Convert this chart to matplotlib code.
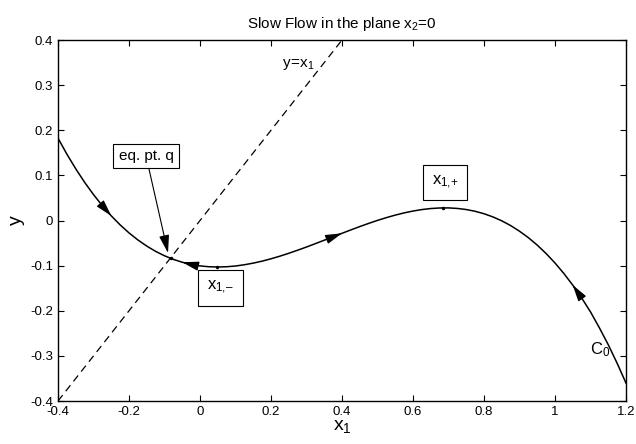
import numpy as np
import matplotlib
matplotlib.use('Agg')
import matplotlib.pyplot as plt
from matplotlib.ticker import FormatStrFormatter

plt.rcParams['font.family'] = ['Liberation Sans', 'DejaVu Sans']
plt.rcParams['mathtext.fontset'] = 'custom'
plt.rcParams['mathtext.rm'] = 'Liberation Sans'
plt.rcParams['mathtext.it'] = 'Liberation Sans'

# -Daten--------------------------------------------------------------------------------------------------------------#

x1 = [-0.400, -0.375, -0.350, -0.325, -0.300, -0.275, -0.250, -0.225, -0.200, -0.175, -0.150,
      -0.125, -0.100, -0.075, -0.050, -0.025, 0.000, 0.025, 0.050, 0.075, 0.100, 0.125,
      0.150, 0.175, 0.200, 0.225, 0.250, 0.275, 0.300, 0.325, 0.350, 0.375, 0.400,
      0.425, 0.450, 0.475, 0.500, 0.525, 0.550, 0.575, 0.600, 0.625, 0.650, 0.675,
      0.700, 0.725, 0.750, 0.775, 0.800, 0.825, 0.850, 0.875, 0.900, 0.925, 0.950,
      0.975, 1.000, 1.025, 1.050, 1.075, 1.100, 1.125, 1.150, 1.175, 1.200]
y = [0.1825, 0.1471, 0.1146, 0.0847, 0.0575, 0.0327, 0.0104, -0.0096, -0.0274, -0.0430, -0.0566,
     -0.0683, -0.0781, -0.0861, -0.0924, -0.0972, -0.1005, -0.1024, -0.1030, -0.1024, -0.1008, -0.0980,
     -0.0944, -0.0900, -0.0848, -0.0790, -0.0726, -0.0658, -0.0587, -0.0512, -0.0436, -0.0360, -0.0283,
     -0.0208, -0.0134, -0.0064, 0.0003, 0.0064, 0.0120, 0.0169, 0.0210, 0.0243, 0.0266, 0.0278,
     0.0280, 0.0268, 0.0244, 0.0205, 0.0151, 0.0081, -0.0006, -0.0111, -0.0236, -0.0379, -0.0544,
     -0.0731, -0.0940, -0.1173, -0.1430, -0.1713, -0.2023, -0.2375, -0.2750, -0.3160, -0.3600]

diag_x = [-0.4, 0.4]

# Gleichgewichtspunkt / Extrema
q_pt = (-0.083, -0.083)
xm_pt = (0.048, -0.102)
xp_pt = (0.686, 0.028)

# Pfeile auf der Kurve: (Index Ende, Index Spitze)
arrows = [(5, 6), (15, 14), (31, 32), (59, 58)]

xticks = [-0.4, -0.2, 0, 0.2, 0.4, 0.6, 0.8, 1, 1.2]
yticks = [-0.4, -0.3, -0.2, -0.1, 0, 0.1, 0.2, 0.3, 0.4]

# -Diagramm-----------------------------------------------------------------------------------------------------------#

fig = plt.figure(figsize=(6.36, 4.44), dpi=100)
ax = fig.add_axes([0.0912, 0.0968, 0.893, 0.813])

ax.plot(x1, y, color='k', lw=1.1)
ax.plot(diag_x, diag_x, color='k', lw=0.9, ls=(0, (6, 4)))

for p in [q_pt, xm_pt, xp_pt]:
    ax.plot(p[0], p[1], 'k.', markersize=3)

head = '-|>,head_length=1.0,head_width=0.28'
for a, b in arrows:
    ax.annotate('', xy=(x1[b], y[b]), xytext=(x1[a], y[a]),
                arrowprops=dict(arrowstyle=head, color='k', lw=0.9, shrinkA=0, shrinkB=0))

box = dict(boxstyle='square,pad=0.55', fc='w', ec='k', lw=0.8)
ax.annotate('eq. pt. q', xy=(-0.09, -0.072), xytext=(-0.152, 0.143), ha='center', va='center',
            fontsize=11, bbox=dict(boxstyle='square,pad=0.35', fc='w', ec='k', lw=0.8),
            arrowprops=dict(arrowstyle=head, color='k', lw=0.8, shrinkA=0, shrinkB=0))
ax.text(0.058, -0.149, '$\\mathregular{x_{\\text{1,\u2013}}}$', ha='center', va='center', fontsize=12, bbox=box)
ax.text(0.690, 0.0845, r'$\mathregular{x_{\text{1,+}}}$', ha='center', va='center', fontsize=12, bbox=box)
ax.text(0.232, 0.345, r'$\mathregular{y\!=\!x_1}$', ha='left', va='center', fontsize=11)
ax.text(1.098, -0.287, r'$\mathregular{C_0}$', ha='left', va='center', fontsize=12)

ax.set_xlim(-0.4, 1.2)
ax.set_ylim(-0.4, 0.4)
ax.set_xticks(xticks)
ax.set_yticks(yticks)
ax.xaxis.set_major_formatter(FormatStrFormatter('%g'))
ax.yaxis.set_major_formatter(FormatStrFormatter('%g'))
ax.tick_params(direction='in', top=True, right=True, labelsize=9.5, length=4, width=0.8)
for s in ax.spines.values():
    s.set_linewidth(1.0)

ax.set_xlabel(r'$\mathregular{x_1}$', fontsize=14, labelpad=0)
ax.set_ylabel('y', fontsize=14, labelpad=4)
ax.set_title(r'Slow Flow in the plane $\mathregular{x_2}$=0', fontsize=11, pad=9)

plt.savefig('out.png', dpi=100)
